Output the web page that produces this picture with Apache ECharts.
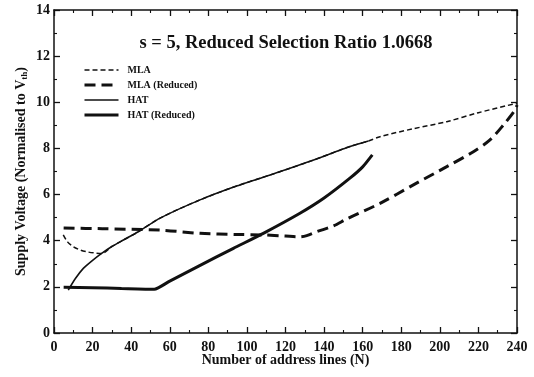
<!DOCTYPE html>
<html>
<head>
<meta charset="utf-8">
<script src="https://cdn.jsdelivr.net/npm/echarts@6/dist/echarts.min.js"></script>
<style>
  html, body { margin: 0; padding: 0; background: #fff; }
  #chart { width: 534px; height: 377px; }
</style>
</head>
<body>
<div id="chart"></div>
<script>
// Supply voltage vs number of address lines, s = 5
const titleText = 's = 5, Reduced Selection Ratio 1.0668';
const xTicks = [0, 20, 40, 60, 80, 100, 120, 140, 160, 180, 200, 220, 240];
const yTicks = [0, 2, 4, 6, 8, 10, 12, 14];

// [N, V] pairs per scheme
const mla = [
  [4.8, 4.25], [7, 3.95], [10, 3.74], [13.5, 3.6], [17, 3.52], [21, 3.47], [24.7, 3.45],
  [30, 3.75], [36, 4.03], [43.7, 4.39], [55, 4.98], [75.7, 5.77], [95, 6.38],
  [114.6, 6.92], [133, 7.45], [153.4, 8.08], [163, 8.32], [169, 8.51],
  [186, 8.85], [203.6, 9.16], [220, 9.55], [240, 9.96]
];
const mlaReduced = [
  [5, 4.55], [25, 4.52], [55, 4.46], [75.7, 4.32], [95, 4.27], [108.5, 4.25],
  [120, 4.2], [127.5, 4.17], [131, 4.22], [136.2, 4.39], [144.8, 4.64],
  [151.7, 4.94], [169, 5.62], [186.3, 6.42], [203.6, 7.21], [217.4, 7.86],
  [226, 8.37], [233, 9.02], [239, 9.67], [240, 9.88]
];
const hat = [
  [7.4, 1.86], [11, 2.35], [15.2, 2.8], [20, 3.15], [24.7, 3.45], [30, 3.75],
  [36, 4.03], [43.7, 4.39], [55, 4.98], [75.7, 5.77], [95, 6.38], [114.6, 6.92],
  [133, 7.45], [153.4, 8.08], [163, 8.32]
];
const hatReduced = [
  [5, 1.98], [20, 1.96], [35, 1.93], [52, 1.9], [60, 2.25], [75, 2.9],
  [93, 3.67], [108.5, 4.32], [127.5, 5.19], [140, 5.85], [153.4, 6.71],
  [160, 7.2], [165, 7.72]
];

const serif = 'Liberation Serif';
const ink = '#111';

const styles = {
  'MLA': { color: ink, width: 1.5, type: [5, 3] },
  'MLA (Reduced)': { color: ink, width: 3, type: [11, 6] },
  'HAT': { color: ink, width: 1.6, type: 'solid' },
  'HAT (Reduced)': { color: ink, width: 3, type: 'solid' }
};

function axisCommon(extra) {
  return Object.assign({
    type: 'value',
    axisLine: { show: true, onZero: false, lineStyle: { color: ink, width: 1.5 } },
    axisTick: { show: true, inside: true, length: 6, lineStyle: { color: ink, width: 1.3 } },
    minorTick: { show: true, splitNumber: 2, length: 3, lineStyle: { color: ink, width: 1.1 } },
    splitLine: { show: false },
    minorSplitLine: { show: false }
  }, extra);
}

const chart = echarts.init(document.getElementById('chart'));
chart.setOption({
  backgroundColor: '#fff',
  animation: false,
  title: {
    text: titleText,
    left: 281, top: 29, textAlign: 'center',
    textStyle: { fontFamily: serif, fontSize: 18.5, fontWeight: 'bold', color: ink }
  },
  legend: {
    orient: 'vertical',
    left: 78, top: 60,
    itemWidth: 34, itemHeight: 10, itemGap: 5,
    itemStyle: { opacity: 0 },
    textStyle: { fontFamily: serif, fontSize: 10, fontWeight: 'bold', color: ink, padding: [0, 0, 0, 4] },
    data: Object.keys(styles).map(n => ({ name: n, lineStyle: styles[n] }))
  },
  grid: { left: 54, right: 17, top: 10, bottom: 44 },
  xAxis: [
    axisCommon({
      min: 0, max: 240, interval: 20, position: 'bottom',
      name: 'Number of address lines (N)', nameLocation: 'middle', nameGap: 20,
      nameMoveOverlap: false,
      nameTextStyle: { fontFamily: serif, fontSize: 14, fontWeight: 'bold', color: ink },
      axisLabel: { fontFamily: serif, fontSize: 14, fontWeight: 'bold', color: ink, margin: 7,
        formatter: v => xTicks.includes(v) ? String(v) : '' }
    }),
    axisCommon({ min: 0, max: 240, interval: 20, position: 'top', axisLabel: { show: false } })
  ],
  yAxis: [
    axisCommon({
      min: 0, max: 14, interval: 2, position: 'left',
      name: '{a|Supply Voltage (Normalised to V}{b|th}{a|)}', nameLocation: 'middle', nameGap: 25,
      nameMoveOverlap: false,
      nameTextStyle: {
        rich: {
          a: { fontFamily: serif, fontSize: 14, fontWeight: 'bold', color: ink },
          b: { fontFamily: serif, fontSize: 9, fontWeight: 'bold', color: ink, verticalAlign: 'bottom', padding: [6, 0, 0, 0] }
        }
      },
      axisLabel: { fontFamily: serif, fontSize: 14, fontWeight: 'bold', color: ink, margin: 4,
        formatter: v => yTicks.includes(v) ? String(v) : '' }
    }),
    axisCommon({ min: 0, max: 14, interval: 2, position: 'right', axisLabel: { show: false } })
  ],
  series: [
    { name: 'MLA', type: 'line', data: mla, smooth: 0.3, symbol: 'none', z: 4,
      lineStyle: styles['MLA'], itemStyle: { color: ink } },
    { name: 'MLA (Reduced)', type: 'line', data: mlaReduced, smooth: 0.3, symbol: 'none', z: 3,
      lineStyle: styles['MLA (Reduced)'], itemStyle: { color: ink } },
    { name: 'HAT', type: 'line', data: hat, smooth: 0.2, symbol: 'none', z: 3,
      lineStyle: styles['HAT'], itemStyle: { color: ink } },
    { name: 'HAT (Reduced)', type: 'line', data: hatReduced, smooth: 0.2, symbol: 'none', z: 3,
      lineStyle: styles['HAT (Reduced)'], itemStyle: { color: ink } }
  ]
});
</script>
</body>
</html>
